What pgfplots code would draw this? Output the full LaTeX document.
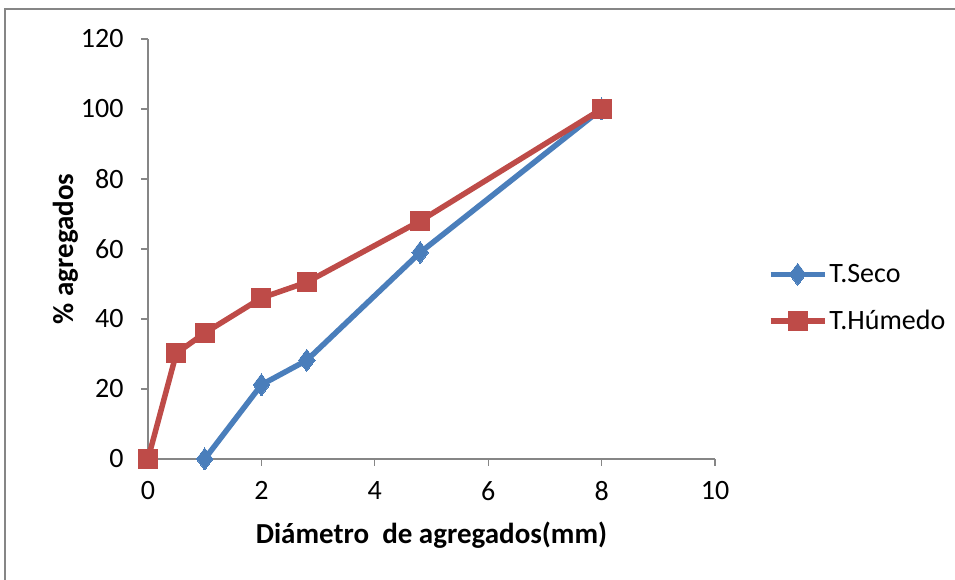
\documentclass[border=0pt]{standalone}
\usepackage{pgfplots}
\pgfplotsset{compat=1.18}
\usepackage{fontspec}
\setmainfont{Carlito}
\definecolor{sblue}{HTML}{4A7EBB}
\definecolor{sred}{HTML}{BE4B48}
\definecolor{agray}{HTML}{868686}
\begin{document}
\begin{tikzpicture}
\useasboundingbox (0pt,0pt) rectangle (955pt,580pt);
\draw[agray,line width=1.2pt] (5pt,-20pt) -- (5pt,571pt) -- (975pt,571pt);
\begin{axis}[
  at={(148pt,121pt)}, anchor=south west,
  scale only axis, width=567pt, height=420pt,
  xmin=0, xmax=10, ymin=0, ymax=120,
  xtick={0,2,...,10}, ytick={0,20,...,120},
  axis lines=left, axis line style={agray,line width=1.3pt,-},
  tick style={agray,line width=1.3pt},
  tick align=outside, major tick length=7pt,
  xtick pos=bottom, ytick pos=left,
  clip=false,
  /pgf/number format/assume math mode=true,
  tick label style={font=\fontsize{28}{32}\selectfont},
  yticklabel style={xshift=-14pt},
  xticklabel style={yshift=-12pt},
  xlabel={\textbf{Diámetro\ \ de agregados(mm)}},
  ylabel={\textbf{\% agregados}},
  label style={font=\fontsize{29}{33}\selectfont},
  xlabel style={yshift=-14pt},
  ylabel style={yshift=-4pt},
  legend style={draw=none, fill=none, at={(1.093,0.385)}, anchor=west,
    font=\fontsize{28}{32}\selectfont, row sep=25pt, inner sep=0pt,
    nodes={inner xsep=2pt, inner ysep=0pt}},
  legend cell align=left,
  legend image code/.code={\draw[mark repeat=2,mark phase=2] plot coordinates {(0pt,0pt)(27pt,0pt)(54pt,0pt)};},
]
\addplot[sblue, line width=5.5pt, line join=round, mark=diamond*, mark size=11pt, mark options={line width=0pt, fill=sblue}]
  coordinates {(1,0) (2,21.2) (2.8,28.2) (4.8,59) (8,100)};
\addlegendentry{T.Seco}
\addplot[sred, line width=5.5pt, line join=round, mark=square*, mark size=9.5pt, mark options={line width=0pt, fill=sred}]
  coordinates {(0,0) (0.5,30.2) (1,36) (2,46) (2.8,50.5) (4.8,68) (8,100)};
\addlegendentry{T.Húmedo}
\end{axis}
\end{tikzpicture}
\end{document}
